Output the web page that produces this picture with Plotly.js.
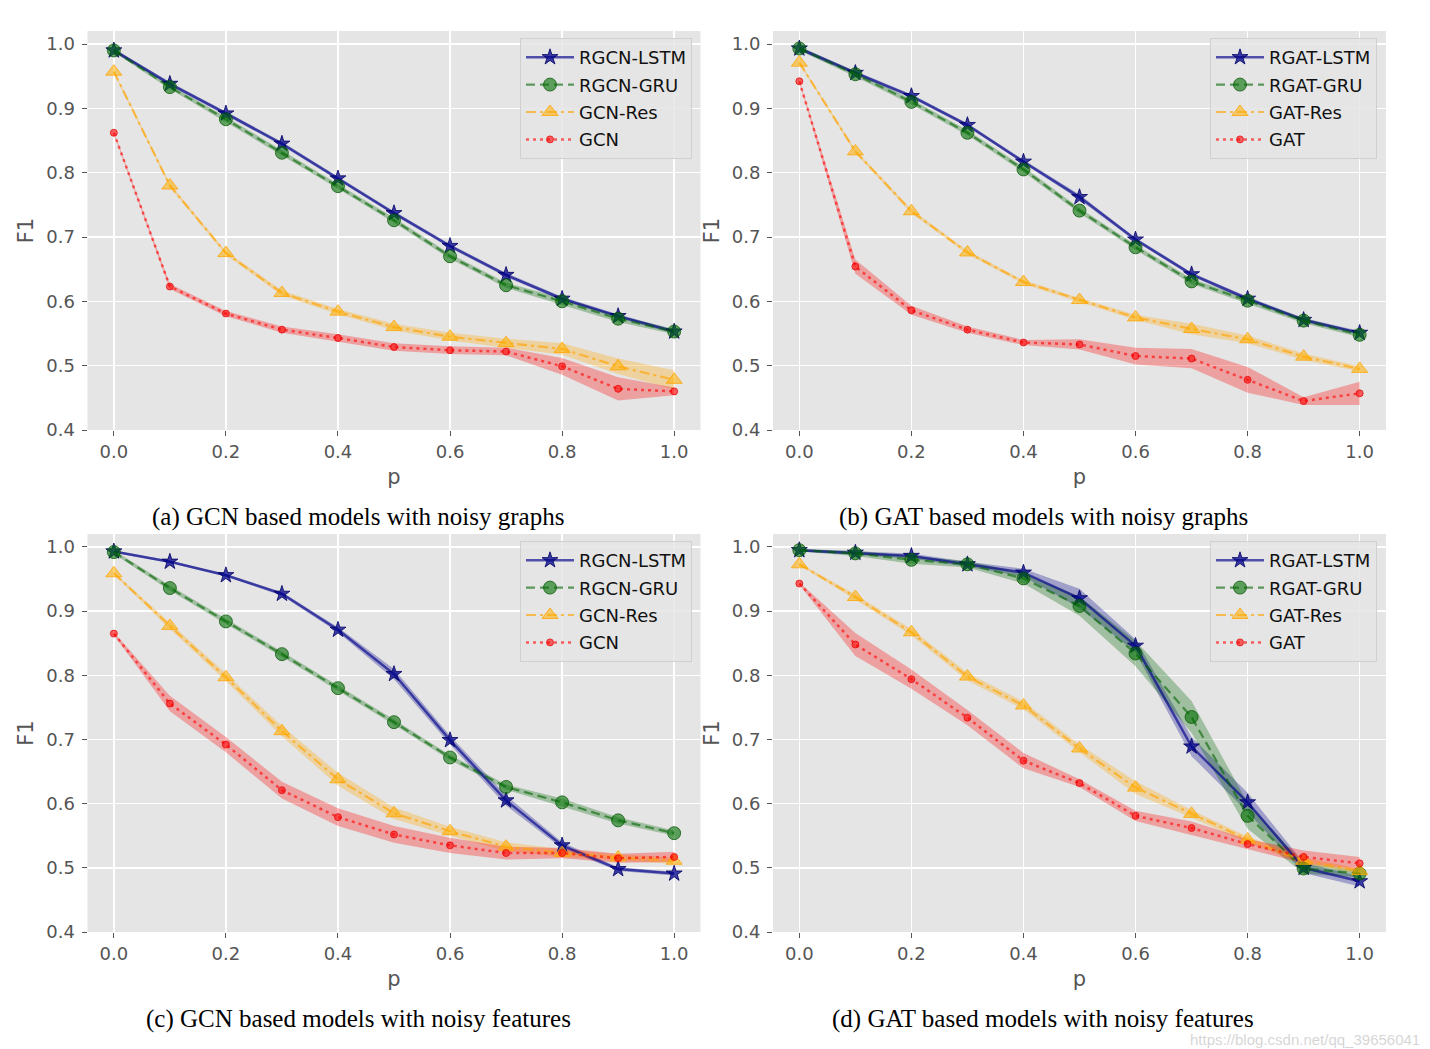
<!DOCTYPE html>
<html>
<head>
<meta charset="utf-8">
<script src="https://cdn.plot.ly/plotly-3.0.1.min.js"></script>
<style>html,body{margin:0;padding:0;background:#fff;} #chart{width:1430px;height:1049px;}</style>
</head>
<body>
<div id="chart"></div>
<script>
// ---- data ----
const p = [0, 0.1, 0.2, 0.3, 0.4, 0.5, 0.6, 0.7, 0.8, 0.9, 1.0];
const xTicks = [0, 0.2, 0.4, 0.6, 0.8, 1.0];
const yTicks = [0.4, 0.5, 0.6, 0.7, 0.8, 0.9, 1.0];

const namesGCN = ["RGCN-LSTM", "RGCN-GRU", "GCN-Res", "GCN"];
const namesGAT = ["RGAT-LSTM", "RGAT-GRU", "GAT-Res", "GAT"];
const captions = [
  "(a) GCN based models with noisy graphs",
  "(b) GAT based models with noisy graphs",
  "(c) GCN based models with noisy features",
  "(d) GAT based models with noisy features"
];

// (a) GCN, noisy graphs
const aLSTM = [0.990, 0.938, 0.892, 0.845, 0.791, 0.737, 0.686, 0.641, 0.604, 0.577, 0.553];
const aGRU  = [0.990, 0.933, 0.883, 0.831, 0.779, 0.726, 0.670, 0.625, 0.600, 0.573, 0.553];
const aRES  = [0.957, 0.780, 0.675, 0.613, 0.584, 0.560, 0.545, 0.535, 0.526, 0.499, 0.478];
const aBASE = [0.862, 0.623, 0.581, 0.556, 0.543, 0.529, 0.524, 0.522, 0.499, 0.464, 0.460];
const aLSTMsd = [0.003, 0.003, 0.003, 0.003, 0.003, 0.003, 0.003, 0.003, 0.003, 0.003, 0.003];
const aGRUsd  = [0.003, 0.003, 0.004, 0.004, 0.004, 0.004, 0.004, 0.004, 0.005, 0.005, 0.004];
const aRESsd  = [0.002, 0.003, 0.003, 0.004, 0.004, 0.005, 0.006, 0.007, 0.009, 0.012, 0.015];
const aBASEsd = [0.002, 0.004, 0.004, 0.005, 0.006, 0.006, 0.006, 0.006, 0.013, 0.018, 0.006];

// (b) GAT, noisy graphs
const bLSTM = [0.993, 0.955, 0.919, 0.874, 0.817, 0.762, 0.696, 0.642, 0.604, 0.571, 0.551];
const bGRU  = [0.993, 0.953, 0.910, 0.862, 0.805, 0.741, 0.684, 0.631, 0.601, 0.570, 0.548];
const bRES  = [0.971, 0.833, 0.740, 0.676, 0.630, 0.602, 0.575, 0.557, 0.541, 0.514, 0.495];
const bBASE = [0.942, 0.654, 0.586, 0.556, 0.536, 0.533, 0.515, 0.511, 0.478, 0.445, 0.457];
const bLSTMsd = [0.003, 0.003, 0.003, 0.003, 0.003, 0.004, 0.003, 0.003, 0.003, 0.003, 0.003];
const bGRUsd  = [0.003, 0.004, 0.004, 0.004, 0.004, 0.004, 0.004, 0.004, 0.004, 0.004, 0.004];
const bRESsd  = [0.002, 0.003, 0.003, 0.003, 0.003, 0.003, 0.004, 0.008, 0.006, 0.005, 0.004];
const bBASEsd = [0.002, 0.011, 0.007, 0.005, 0.004, 0.008, 0.013, 0.015, 0.020, 0.006, 0.018];

// (c) GCN, noisy features
const cLSTM = [0.993, 0.977, 0.956, 0.927, 0.871, 0.802, 0.699, 0.605, 0.535, 0.498, 0.491];
const cGRU  = [0.992, 0.936, 0.884, 0.833, 0.780, 0.727, 0.672, 0.626, 0.602, 0.574, 0.554];
const cRES  = [0.959, 0.877, 0.797, 0.713, 0.638, 0.585, 0.557, 0.533, 0.523, 0.516, 0.511];
const cBASE = [0.865, 0.756, 0.692, 0.621, 0.579, 0.552, 0.535, 0.523, 0.523, 0.515, 0.517];
const cLSTMsd = [0.002, 0.002, 0.002, 0.003, 0.004, 0.008, 0.007, 0.008, 0.005, 0.003, 0.003];
const cGRUsd  = [0.003, 0.004, 0.004, 0.004, 0.004, 0.004, 0.004, 0.004, 0.006, 0.005, 0.004];
const cRESsd  = [0.002, 0.005, 0.006, 0.008, 0.010, 0.009, 0.007, 0.007, 0.006, 0.005, 0.005];
const cBASEsd = [0.002, 0.012, 0.012, 0.013, 0.014, 0.013, 0.012, 0.010, 0.008, 0.007, 0.008];

// (d) GAT, noisy features
const dLSTM = [0.995, 0.991, 0.986, 0.973, 0.960, 0.920, 0.846, 0.689, 0.602, 0.500, 0.479];
const dGRU  = [0.995, 0.990, 0.980, 0.973, 0.951, 0.908, 0.834, 0.735, 0.581, 0.499, 0.491];
const dRES  = [0.973, 0.922, 0.867, 0.798, 0.753, 0.686, 0.625, 0.584, 0.544, 0.511, 0.495];
const dBASE = [0.943, 0.848, 0.794, 0.734, 0.667, 0.632, 0.581, 0.562, 0.537, 0.517, 0.507];
const dLSTMsd = [0.002, 0.003, 0.004, 0.004, 0.006, 0.015, 0.010, 0.015, 0.015, 0.008, 0.008];
const dGRUsd  = [0.002, 0.004, 0.006, 0.005, 0.008, 0.015, 0.020, 0.025, 0.020, 0.008, 0.006];
const dRESsd  = [0.002, 0.004, 0.005, 0.006, 0.006, 0.006, 0.010, 0.006, 0.005, 0.005, 0.004];
const dBASEsd = [0.002, 0.018, 0.015, 0.012, 0.012, 0.006, 0.008, 0.010, 0.008, 0.010, 0.010];

// ---- styles ----
const styles = [
  { line: "rgba(0,0,139,0.65)", band: "rgba(0,0,139,0.3)", dash: "solid", width: 2.5,
    symbol: "star", size: 12, mfill: "rgba(0,0,139,0.75)", mline: "rgba(0,0,100,0.8)" },
  { line: "rgba(0,100,0,0.6)", band: "rgba(0,100,0,0.3)", dash: "9px,5px", width: 2.2,
    symbol: "circle", size: 13, mfill: "rgba(0,110,0,0.6)", mline: "rgba(0,80,0,0.7)" },
  { line: "rgba(255,165,0,0.65)", band: "rgba(255,165,0,0.3)", dash: "10px,4px,3px,4px", width: 2.2,
    symbol: "triangle-up", size: 14, mfill: "rgba(255,175,0,0.55)", mline: "rgba(255,165,0,0.8)" },
  { line: "rgba(255,0,0,0.6)", band: "rgba(255,0,0,0.3)", dash: "3px,4px", width: 2.5,
    symbol: "circle", size: 7, mfill: "rgba(255,0,0,0.6)", mline: "rgba(230,0,0,0.7)" }
];

const panels = [
  { names: namesGCN, means: [aLSTM, aGRU, aRES, aBASE], sds: [aLSTMsd, aGRUsd, aRESsd, aBASEsd] },
  { names: namesGAT, means: [bLSTM, bGRU, bRES, bBASE], sds: [bLSTMsd, bGRUsd, bRESsd, bBASEsd] },
  { names: namesGCN, means: [cLSTM, cGRU, cRES, cBASE], sds: [cLSTMsd, cGRUsd, cRESsd, cBASEsd] },
  { names: namesGAT, means: [dLSTM, dGRU, dRES, dBASE], sds: [dLSTMsd, dGRUsd, dRESsd, dBASEsd] }
];

const W = 1430, H = 1049;
const px = v => v / W, py = v => 1 - v / H;
const xDom = [[87.5, 700.5], [773, 1386], [87.5, 700.5], [773, 1386]];
const yDom = [[31, 430], [31, 430], [534, 932], [534, 932]];
const legendPos = [[692, 38], [1377, 38], [692, 541], [1377, 541]];
const capPos = [[358, 517], [1043, 517], [358, 1019], [1043, 1019]];

const traces = [];
const layout = {
  width: W, height: H,
  margin: { l: 0, r: 0, t: 0, b: 0, pad: 0 },
  paper_bgcolor: "#ffffff",
  plot_bgcolor: "#E5E5E5",
  font: { family: "DejaVu Sans", color: "#555555", size: 18 },
  showlegend: true,
  annotations: []
};

panels.forEach((pan, i) => {
  const k = i === 0 ? "" : String(i + 1);
  const xa = "x" + k, ya = "y" + k;
  const lg = "legend" + k;
  // bands
  pan.means.forEach((m, j) => {
    const up = m.map((v, t) => v + pan.sds[j][t]);
    const lo = m.map((v, t) => v - pan.sds[j][t]);
    traces.push({
      x: p.concat(p.slice().reverse()),
      y: up.concat(lo.slice().reverse()),
      xaxis: xa, yaxis: ya, type: "scatter", mode: "lines",
      fill: "toself", fillcolor: styles[j].band, line: { width: 0, color: "rgba(0,0,0,0)" },
      showlegend: false, hoverinfo: "skip", legend: lg
    });
  });
  // lines
  pan.means.forEach((m, j) => {
    const s = styles[j];
    traces.push({
      x: p, y: m, xaxis: xa, yaxis: ya, type: "scatter", mode: "lines+markers",
      name: pan.names[j], legend: lg, legendgroup: "g" + i + "_" + j,
      line: { color: s.line, width: s.width, dash: s.dash },
      marker: { symbol: s.symbol, size: s.size, color: s.mfill, line: { color: s.mline, width: 1 } }
    });
  });
  const axCommon = {
    showgrid: true, gridcolor: "#ffffff", gridwidth: 1.5, zeroline: false, showline: false,
    ticks: "outside", ticklen: 5, tickwidth: 1, tickcolor: "#555555",
    tickfont: { family: "DejaVu Sans", size: 18, color: "#555555" }, automargin: false
  };
  layout["xaxis" + k] = Object.assign({}, axCommon, {
    domain: [px(xDom[i][0]), px(xDom[i][1])], anchor: ya,
    range: [-0.047, 1.047], tickvals: xTicks, tickformat: ".1f",
    title: { text: "p", font: { family: "DejaVu Sans", size: 21, color: "#555555" }, standoff: 8 }
  });
  layout["yaxis" + k] = Object.assign({}, axCommon, {
    domain: [py(yDom[i][1]), py(yDom[i][0])], anchor: xa,
    range: [0.4, 1.0202], tickvals: yTicks, tickformat: ".1f", ticklabelstandoff: 3,
    title: { text: "F1", font: { family: "DejaVu Sans", size: 21, color: "#555555" }, standoff: 6 }
  });
  layout[lg] = {
    x: px(legendPos[i][0]), y: py(legendPos[i][1]), xanchor: "right", yanchor: "top",
    xref: "paper", yref: "paper", itemwidth: 48, tracegroupgap: 1,
    bgcolor: "rgba(229,229,229,0.85)", bordercolor: "#d0d0d0", borderwidth: 1,
    font: { family: "DejaVu Sans", size: 18, color: "#111111" }
  };
  layout.annotations.push({
    text: captions[i], x: px(capPos[i][0]), y: py(capPos[i][1]), xref: "paper", yref: "paper",
    xanchor: "center", yanchor: "middle", showarrow: false,
    font: { family: "Liberation Serif", size: 25, color: "#000000" }
  });
});

layout.annotations.push({
  text: "https://blog.csdn.net/qq_39656041", x: px(1422), y: py(1039), xref: "paper", yref: "paper",
  xanchor: "right", yanchor: "middle", showarrow: false,
  font: { family: "Liberation Sans", size: 15, color: "rgba(185,185,185,0.6)" }
});

Plotly.newPlot("chart", traces, layout, { staticPlot: true, displayModeBar: false });
</script>
</body>
</html>
